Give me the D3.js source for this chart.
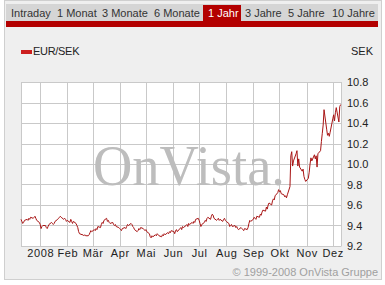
<!DOCTYPE html>
<html>
<meta charset="utf-8">
<style>
body { margin: 0; background: #fff; }
text { font-family: "Liberation Sans", Arial, sans-serif; }
</style>
<body>
</body>
<script src="https://cdn.jsdelivr.net/npm/d3@7"></script>
<script>

// tabs across the top
var tabs = ["Intraday", "1 Monat", "3 Monate", "6 Monate", "1 Jahr", "3 Jahre", "5 Jahre", "10 Jahre"];
var activeTab = "1 Jahr";

// month labels, one per gridline
var monthTicks = ["2008-01-01", "2008-02-01", "2008-03-01", "2008-04-01", "2008-05-01", "2008-06-01",
                  "2008-07-01", "2008-08-01", "2008-09-01", "2008-10-01", "2008-11-01", "2008-12-01"];
var monthLabels = ["2008", "Feb", "Mär", "Apr", "Mai", "Jun", "Jul", "Aug", "Sep", "Okt", "Nov", "Dez"];
var yTicks = [9.2, 9.4, 9.6, 9.8, 10.0, 10.2, 10.4, 10.6, 10.8];

// daily closes EUR/SEK, one value per trading day, by month
var dec07 = [9.46, 9.44, 9.42, 9.43, 9.45, 9.46, 9.45, 9.47, 9.46, 9.48, 9.47, 9.48, 9.49, 9.47, 9.45, 9.43];
var jan08 = [9.41, 9.37, 9.39, 9.40, 9.40, 9.38, 9.37, 9.39, 9.41, 9.43, 9.42, 9.41, 9.42, 9.44, 9.46, 9.47,
             9.48, 9.49, 9.48, 9.46, 9.47, 9.46, 9.44];
var feb08 = [9.45, 9.43, 9.46, 9.44, 9.42, 9.44, 9.42, 9.40, 9.38, 9.34, 9.32, 9.31, 9.31, 9.30, 9.31, 9.30,
             9.30, 9.31, 9.33, 9.35, 9.34];
var mar08 = [9.36, 9.35, 9.37, 9.36, 9.39, 9.38, 9.41, 9.43, 9.42, 9.45, 9.47, 9.44, 9.45, 9.43, 9.42, 9.43,
             9.41, 9.40, 9.41, 9.39, 9.38];
var apr08 = [9.37, 9.36, 9.35, 9.37, 9.38, 9.37, 9.39, 9.41, 9.40, 9.42, 9.41, 9.39, 9.38, 9.36, 9.34, 9.35,
             9.37, 9.36, 9.38, 9.37, 9.36, 9.35];
var may08 = [9.36, 9.34, 9.32, 9.29, 9.28, 9.30, 9.29, 9.31, 9.30, 9.32, 9.31, 9.30, 9.29, 9.31, 9.30, 9.32,
             9.31, 9.33, 9.32, 9.34, 9.33, 9.35];
var jun08 = [9.34, 9.32, 9.35, 9.36, 9.34, 9.37, 9.38, 9.36, 9.39, 9.38, 9.40, 9.41, 9.39, 9.42, 9.41, 9.43,
             9.42, 9.44, 9.43, 9.46, 9.47];
var jul08 = [9.45, 9.42, 9.39, 9.41, 9.43, 9.45, 9.44, 9.47, 9.48, 9.46, 9.49, 9.51, 9.50, 9.47, 9.45, 9.46,
             9.47, 9.45, 9.46, 9.44, 9.46, 9.47, 9.45];
var aug08 = [9.44, 9.42, 9.39, 9.40, 9.41, 9.39, 9.40, 9.38, 9.39, 9.37, 9.36, 9.38, 9.37, 9.36, 9.35, 9.37,
             9.36, 9.38, 9.42, 9.45, 9.44];
var sep08 = [9.46, 9.48, 9.47, 9.46, 9.49, 9.48, 9.51, 9.50, 9.53, 9.55, 9.54, 9.58, 9.56, 9.60, 9.62, 9.60,
             9.64, 9.66, 9.65, 9.69, 9.72, 9.75];
var oct08 = [9.73, 9.74, 9.71, 9.70, 9.68, 9.69, 9.67, 9.70, 9.78, 10.08, 10.12, 9.98, 10.03, 10.10, 10.13, 9.98,
             10.05, 9.97, 9.93, 9.95, 9.88, 9.85, 9.83];
var nov08 = [9.86, 9.92, 10.00, 10.06, 10.03, 10.09, 10.05, 10.08, 9.97, 10.10, 10.13, 10.22, 10.30, 10.38, 10.53, 10.34,
             10.28, 10.30, 10.27, 10.31];
var dec08 = [10.44, 10.48, 10.42, 10.50, 10.55, 10.41, 10.56, 10.58];

var months = [
  {start: "2007-12-10", values: dec07}, {start: "2008-01-01", values: jan08}, {start: "2008-02-01", values: feb08},
  {start: "2008-03-01", values: mar08}, {start: "2008-04-01", values: apr08}, {start: "2008-05-01", values: may08},
  {start: "2008-06-01", values: jun08}, {start: "2008-07-01", values: jul08}, {start: "2008-08-01", values: aug08},
  {start: "2008-09-01", values: sep08}, {start: "2008-10-01", values: oct08}, {start: "2008-11-01", values: nov08},
  {start: "2008-12-01", values: dec08}
];

var parse = d3.timeParse("%Y-%m-%d");

// lay each month's values onto its weekdays
var series = [];
months.forEach(function (m) {
  var s = parse(m.start);
  var days = d3.timeDay.range(s, d3.timeMonth.offset(d3.timeMonth.floor(s), 1))
    .filter(function (d) { return d.getDay() != 0 && d.getDay() != 6; });
  m.values.forEach(function (v, i) {
    if (i < days.length) series.push({date: days[i], value: v});
  });
});

var width = 385, height = 285;
var plot = {left: 21, right: 341.5, top: 82, bottom: 246};

var svg = d3.select("body").append("svg")
    .attr("width", width)
    .attr("height", height);

// outer panel
svg.append("rect").attr("x", 4.5).attr("y", 0.5).attr("width", 377).attr("height", 279)
  .attr("fill", "#efefef").attr("stroke", "#cfcfcf");

// tab bar
svg.append("rect").attr("x", 6).attr("y", 4).attr("width", 372).attr("height", 18).attr("fill", "#d5d5d5");
svg.append("rect").attr("x", 6).attr("y", 21).attr("width", 372).attr("height", 6).attr("fill", "#b30000");

var tabX = [11, 57, 102, 154, 208, 245, 288, 332];
var tabG = svg.append("g");
tabG.selectAll("rect").data(tabs.filter(function (d) { return d == activeTab; })).enter()
  .append("rect")
  .attr("x", 203).attr("y", 5).attr("width", 38).attr("height", 17)
  .attr("fill", "#b30000");
tabG.selectAll("text").data(tabs).enter()
  .append("text")
  .attr("x", function (d, i) { return tabX[i]; })
  .attr("y", 17)
  .attr("font-size", "11px")
  .attr("fill", function (d) { return d == activeTab ? "#fff" : "#333"; })
  .text(function (d) { return d; });

// legend
svg.append("rect").attr("x", 21).attr("y", 50).attr("width", 11).attr("height", 4).attr("fill", "#cc1f1f");
svg.append("text").attr("x", 33).attr("y", 55).attr("font-size", "11px").attr("fill", "#222")
  .attr("letter-spacing", "-0.3px").text("EUR/SEK");
svg.append("text").attr("x", 373).attr("y", 55).attr("font-size", "11px").attr("fill", "#222")
  .attr("text-anchor", "end").text("SEK");

// scales
var x = d3.scaleTime()
  .domain([parse("2007-12-10"), parse("2008-12-11")])
  .range([plot.left, plot.right]);
var y = d3.scaleLinear()
  .domain([9.2, 10.8])
  .range([plot.bottom, plot.top]);

svg.append("rect").attr("x", plot.left).attr("y", plot.top)
  .attr("width", plot.right - plot.left).attr("height", plot.bottom - plot.top)
  .attr("fill", "#fff");

// gridlines
var grid = svg.append("g").attr("stroke", "#c9c9c9").attr("stroke-width", 1);
grid.selectAll(".h").data(yTicks).enter().append("line")
  .attr("x1", plot.left).attr("x2", plot.right)
  .attr("y1", function (d) { return Math.round(y(d)) + 0.5; })
  .attr("y2", function (d) { return Math.round(y(d)) + 0.5; });
grid.selectAll(".v").data(monthTicks.map(parse)).enter().append("line")
  .attr("y1", plot.top).attr("y2", plot.bottom)
  .attr("x1", function (d) { return Math.round(x(d)) + 0.5; })
  .attr("x2", function (d) { return Math.round(x(d)) + 0.5; });
grid.append("line").attr("x1", plot.left + 0.5).attr("x2", plot.left + 0.5)
  .attr("y1", plot.top).attr("y2", plot.bottom);
grid.append("line").attr("x1", plot.right).attr("x2", plot.right)
  .attr("y1", plot.top).attr("y2", plot.bottom);

// watermark
svg.append("text")
  .attr("x", 93).attr("y", 185)
  .attr("font-size", "58px")
  .attr("textLength", 192)
  .attr("lengthAdjust", "spacingAndGlyphs")
  .attr("fill", "#bdbdbd")
  .style("font-family", "'Liberation Serif', 'Times New Roman', serif")
  .text("OnVista.");

// x axis labels
var xAxis = d3.axisBottom(x)
  .tickValues(monthTicks.map(parse))
  .tickSize(0)
  .tickPadding(0)
  .tickFormat(function (d, i) { return monthLabels[i]; });
var xg = svg.append("g").attr("transform", "translate(0," + 249 + ")").call(xAxis);
xg.select(".domain").remove();
xg.selectAll("text").attr("font-size", "11px").attr("fill", "#222")
  .attr("letter-spacing", "0.6px").attr("dy", "0.71em")
  .style("font-family", "'Liberation Sans', Arial, sans-serif");

// y axis labels on the right
var yAxis = d3.axisRight(y)
  .tickValues(yTicks)
  .tickSize(0)
  .tickPadding(0)
  .tickFormat(d3.format(".1f"));
var yg = svg.append("g").attr("transform", "translate(" + 347 + ",0)").call(yAxis);
yg.select(".domain").remove();
yg.selectAll("text").attr("font-size", "11px").attr("fill", "#222")
  .style("font-family", "'Liberation Sans', Arial, sans-serif");

// the line
var line = d3.line()
  .x(function (d) { return x(d.date); })
  .y(function (d) { return y(d.value); });
svg.append("path").datum(series)
  .attr("d", line)
  .attr("fill", "none")
  .attr("stroke", "#a81414")
  .attr("stroke-width", 1);

// copyright
svg.append("text").attr("x", 378).attr("y", 276).attr("text-anchor", "end")
  .attr("font-size", "11px").attr("fill", "#a0a0a0")
  .text("\u00a9 1999-2008 OnVista Gruppe");

</script>
</html>
